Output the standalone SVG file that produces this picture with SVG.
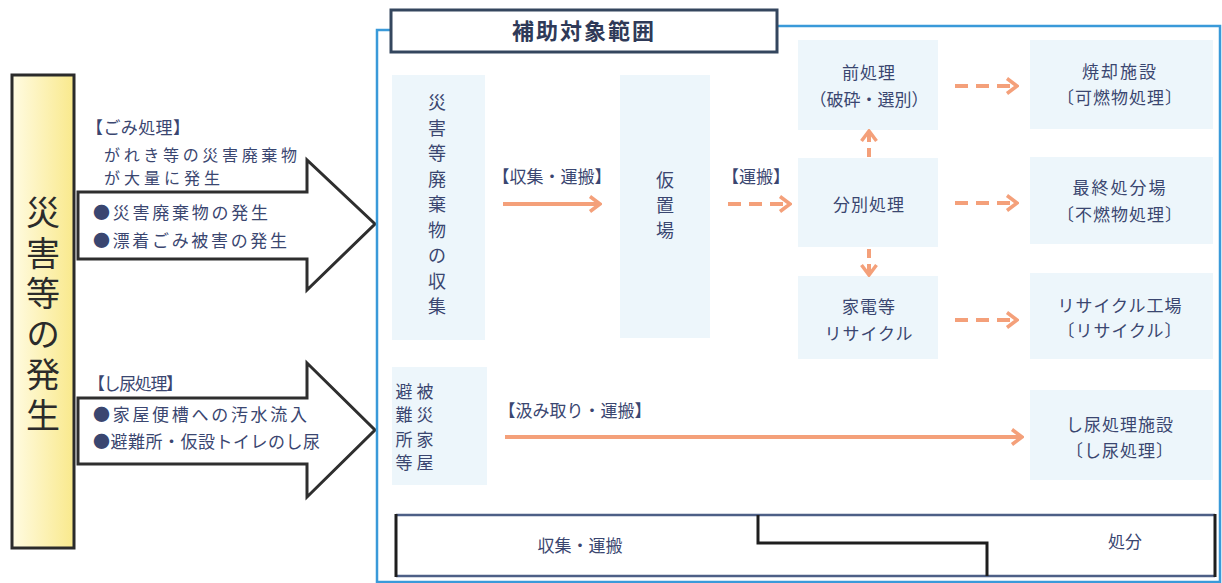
<svg xmlns="http://www.w3.org/2000/svg" width="1222" height="583" viewBox="0 0 1222 583">
<style>
text{font-family:"Noto Sans CJK JP","Noto Sans CJK SC",sans-serif;fill:#3a4670}
.t{font-size:17px}
.s{font-size:16px}
.c{text-anchor:middle}
.node{fill:#edf6fb}
.big{font-size:34px;fill:#2b2b2b;writing-mode:vertical-rl;letter-spacing:6.6px}
.v{font-size:18px;text-anchor:middle}
.sol{stroke:#f4a07a;stroke-width:4;fill:none;marker-end:url(#ah)}
.dash{stroke:#f4a07a;stroke-width:4;fill:none;stroke-dasharray:13 8;marker-end:url(#ah)}
.bigarrow{fill:#fff;stroke:#2e2e2e;stroke-width:3;stroke-linejoin:miter}
</style>
<defs>
<linearGradient id="yg" x1="0" y1="0" x2="1" y2="0">
<stop offset="0" stop-color="#fffbe2"/>
<stop offset="1" stop-color="#f9e98c"/>
</linearGradient>
<marker id="ah" viewBox="0 0 14 18" refX="12" refY="9" markerWidth="14" markerHeight="18" markerUnits="userSpaceOnUse" orient="auto">
<path d="M2,1.5 L12,9 L2,16.5" fill="none" stroke="#f4a07a" stroke-width="3.5"/>
</marker>
</defs>
<rect width="1222" height="583" fill="#fff"/>

<g id="disaster">
<rect x="12" y="75" width="62" height="473" fill="url(#yg)" stroke="#2b2b2b" stroke-width="3"/>
<text class="big" x="43" y="195">災害等の発生</text>
</g>

<g id="arrow-gomi">
<path class="bigarrow" d="M78,192 H307 V160 L375,224 L307,290 V259 H78 Z"/>
<text class="t" x="86" y="134" textLength="104" lengthAdjust="spacing">【ごみ処理】</text>
<text class="s" x="104" y="161" textLength="193" lengthAdjust="spacing">がれき等の災害廃棄物</text>
<text class="s" x="104" y="184" textLength="116" lengthAdjust="spacing">が大量に発生</text>
<text class="t" x="93" y="219" textLength="175" lengthAdjust="spacing">●災害廃棄物の発生</text>
<text class="t" x="93" y="247" textLength="194" lengthAdjust="spacing">●漂着ごみ被害の発生</text>
</g>

<g id="arrow-shinyo">
<path class="bigarrow" d="M78,398 H307 V363 L375,430 L307,497 V464 H78 Z"/>
<text class="t" x="88" y="390" textLength="95" lengthAdjust="spacing">【し尿処理】</text>
<text class="t" x="93" y="421" textLength="214" lengthAdjust="spacing">●家屋便槽への汚水流入</text>
<text class="t" x="93" y="448" textLength="227" lengthAdjust="spacing">●避難所・仮設トイレのし尿</text>
</g>

<g id="scope-frame">
<path d="M391,30 H377 V582 H1220 V26 H777" fill="none" stroke="#3a9ad9" stroke-width="2.5"/>
</g>

<g id="title">
<rect x="391" y="10" width="386" height="42" fill="#fff" stroke="#34465e" stroke-width="3"/>
<text x="584" y="39" class="c" style="font-size:22px;font-weight:bold;letter-spacing:2px;fill:#2f3a58">補助対象範囲</text>
</g>

<g id="n-collect">
<rect class="node" x="392" y="75" width="93" height="265"/>
<text class="v"><tspan x="437" y="109">災</tspan><tspan x="437" y="135">害</tspan><tspan x="437" y="160">等</tspan><tspan x="437" y="186">廃</tspan><tspan x="437" y="211">棄</tspan><tspan x="437" y="237">物</tspan><tspan x="437" y="262">の</tspan><tspan x="437" y="288">収</tspan><tspan x="437" y="313">集</tspan></text>
</g>

<g id="n-karioki">
<rect class="node" x="620" y="75" width="90" height="263"/>
<text class="v"><tspan x="665" y="187">仮</tspan><tspan x="665" y="212">置</tspan><tspan x="665" y="237">場</tspan></text>
</g>

<g id="n-pre">
<rect class="node" x="798" y="40" width="140" height="90"/>
<text class="t c" x="869" y="79" style="letter-spacing:1px">前処理</text>
<text class="t c" x="869" y="106">（破砕・選別）</text>
</g>

<g id="n-sort">
<rect class="node" x="798" y="158" width="140" height="89"/>
<text class="t c" x="869" y="211" style="letter-spacing:1px">分別処理</text>
</g>

<g id="n-kaden">
<rect class="node" x="798" y="276" width="140" height="83"/>
<text class="t c" x="869" y="313" style="letter-spacing:1px">家電等</text>
<text class="t c" x="869" y="340" style="letter-spacing:1px">リサイクル</text>
</g>

<g id="n-incin">
<rect class="node" x="1030" y="40" width="183" height="89"/>
<text class="t c" x="1120" y="78" style="letter-spacing:2px">焼却施設</text>
<text class="t c" x="1120" y="104" style="letter-spacing:1px">〔可燃物処理〕</text>
</g>

<g id="n-final">
<rect class="node" x="1030" y="157" width="183" height="87"/>
<text class="t c" x="1120" y="194" style="letter-spacing:2px">最終処分場</text>
<text class="t c" x="1120" y="221" style="letter-spacing:1px">〔不燃物処理〕</text>
</g>

<g id="n-recycle">
<rect class="node" x="1030" y="273" width="183" height="86"/>
<text class="t c" x="1120" y="312" style="letter-spacing:1px">リサイクル工場</text>
<text class="t c" x="1120" y="337" style="letter-spacing:1px">〔リサイクル〕</text>
</g>

<g id="n-house">
<rect class="node" x="392" y="367" width="95" height="118"/>
<text class="t c"><tspan x="404" y="398">避</tspan><tspan x="404" y="421">難</tspan><tspan x="404" y="446">所</tspan><tspan x="404" y="469">等</tspan></text>
<text class="t c"><tspan x="425" y="398">被</tspan><tspan x="425" y="421">災</tspan><tspan x="425" y="446">家</tspan><tspan x="425" y="469">屋</tspan></text>
</g>

<g id="n-shinyo">
<rect class="node" x="1030" y="390" width="183" height="90"/>
<text class="t c" x="1120" y="431" style="letter-spacing:1px">し尿処理施設</text>
<text class="t c" x="1120" y="457" style="letter-spacing:1px">〔し尿処理〕</text>
</g>

<g id="connectors">
<text class="t c" x="552" y="183">【収集・運搬】</text>
<line class="sol" x1="503" y1="204" x2="600" y2="204"/>
<text class="t c" x="756" y="183">【運搬】</text>
<line class="dash" x1="728" y1="204" x2="790" y2="204"/>
<line class="dash" x1="869" y1="157" x2="869" y2="131" style="stroke-dasharray:9 6"/>
<line class="dash" x1="869" y1="249" x2="869" y2="275" style="stroke-dasharray:9 6"/>
<line class="dash" x1="955" y1="86" x2="1017" y2="86"/>
<line class="dash" x1="955" y1="203" x2="1017" y2="203"/>
<line class="dash" x1="955" y1="320" x2="1017" y2="320"/>
<text class="t c" x="575" y="417">【汲み取り・運搬】</text>
<line class="sol" x1="505" y1="437" x2="1022" y2="437"/>
</g>

<g id="phase-bar">
<path d="M396,515 H1215 M396,576 H1215" stroke="#4d5f86" stroke-width="2.5" fill="none"/>
<path d="M396,514 V577 M1215,514 V577" stroke="#1e1e1e" stroke-width="3" fill="none"/>
<path d="M758,515 V543 H987 V576" stroke="#1e1e1e" stroke-width="3" fill="none"/>
<text class="t c" x="580" y="552">収集・運搬</text>
<text class="t c" x="1125" y="548">処分</text>
</g>
</svg>
